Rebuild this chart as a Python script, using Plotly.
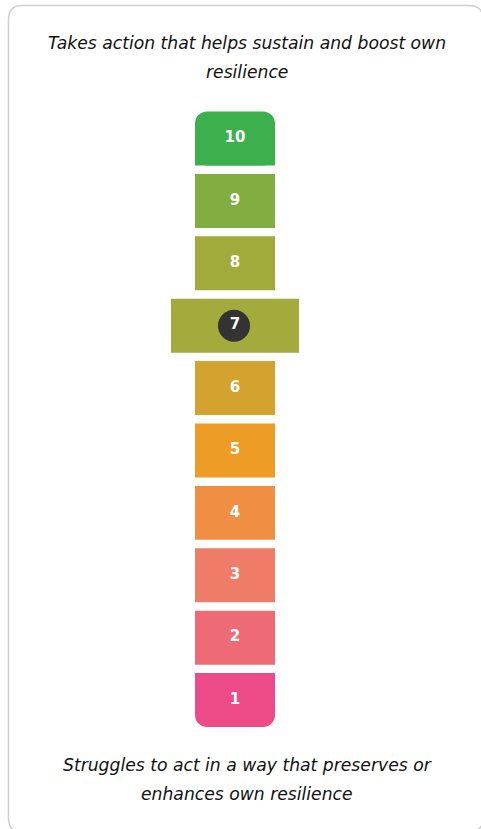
import plotly.graph_objects as go

# ---- data ----
scores = [1, 2, 3, 4, 5, 6, 7, 8, 9, 10]
labels = ["1", "2", "3", "4", "5", "6", "7", "8", "9", "10"]
colors = ["#ec4b88", "#ee6a74", "#ef7c66", "#f08e44", "#ed9c26",
          "#d3a22f", "#a2ab3c", "#a0ab3c", "#82ad41", "#3cb04c"]
selected = 7
top_text = ["Takes action that helps sustain and boost own", "resilience"]
bottom_text = ["Struggles to act in a way that preserves or", "enhances own resilience"]

W, H = 481, 829
BAR_W, SEL_W = 80, 128
BAR_H = 0.865
Y_RANGE = [-1.067, 12.22]


def px(x):
    return x / W


def py(y):
    return 1 - y / H


fig = go.Figure()

widths = [SEL_W if s == selected else BAR_W for s in scores]
hi, lo = max(scores), min(scores)
it, ib = scores.index(hi), scores.index(lo)

# rounded end bars (top bar rounded at top, bottom bar rounded at bottom)
fig.add_trace(go.Bar(
    x=[0], y=[BAR_H], base=[scores[it] - BAR_H / 2], width=[widths[it]],
    marker=dict(color=[colors[it]], line=dict(width=0), cornerradius=12),
    hoverinfo="skip", showlegend=False,
))
fig.add_trace(go.Bar(
    x=[0], y=[-BAR_H], base=[scores[ib] + BAR_H / 2], width=[widths[ib]],
    marker=dict(color=[colors[ib]], line=dict(width=0), cornerradius=12),
    hoverinfo="skip", showlegend=False,
))

# square bars: middle bars + square halves of the end bars
sq_base, sq_h, sq_w, sq_c = [], [], [], []
for i, s in enumerate(scores):
    if s == hi:
        sq_base.append(s - BAR_H / 2); sq_h.append(BAR_H / 2)
    elif s == lo:
        sq_base.append(s); sq_h.append(BAR_H / 2)
    else:
        sq_base.append(s - BAR_H / 2); sq_h.append(BAR_H)
    sq_w.append(widths[i]); sq_c.append(colors[i])
fig.add_trace(go.Bar(
    x=[0] * len(scores), y=sq_h, base=sq_base, width=sq_w,
    marker=dict(color=sq_c, line=dict(width=0)),
    hoverinfo="skip", showlegend=False,
))

# selected circle
fig.add_trace(go.Scatter(
    x=[-1], y=[selected], mode="markers",
    marker=dict(size=32, color="#333333", line=dict(width=0)),
    hoverinfo="skip", showlegend=False,
))
# labels
fig.add_trace(go.Scatter(
    x=[0] * len(scores), y=scores, mode="text", text=labels,
    textfont=dict(family="DejaVu Sans", size=15, color="white", weight="bold"),
    textposition="middle center",
    hoverinfo="skip", showlegend=False,
))

# card border
x0, y0, x1, y1, r = 8.5, 5.5, 483, 832, 14
path = (f"M {px(x0)},{py(y0 + r)} Q {px(x0)},{py(y0)} {px(x0 + r)},{py(y0)} "
        f"L {px(x1 - r)},{py(y0)} Q {px(x1)},{py(y0)} {px(x1)},{py(y0 + r)} "
        f"L {px(x1)},{py(y1 - r)} Q {px(x1)},{py(y1)} {px(x1 - r)},{py(y1)} "
        f"L {px(x0 + r)},{py(y1)} Q {px(x0)},{py(y1)} {px(x0)},{py(y1 - r)} Z")
fig.add_shape(type="path", path=path, xref="paper", yref="paper",
              line=dict(color="#cfcfcf", width=1.5), fillcolor="rgba(0,0,0,0)",
              layer="below")

font_t = dict(family="DejaVu Sans", size=17.2, color="#111111", style="italic")
for txt, yy in zip(top_text, [43, 72]):
    fig.add_annotation(text=txt, x=px(247), y=py(yy), xref="paper", yref="paper",
                       showarrow=False, font=font_t, xanchor="center", yanchor="middle")
for txt, yy in zip(bottom_text, [765, 794]):
    fig.add_annotation(text=txt, x=px(247), y=py(yy), xref="paper", yref="paper",
                       showarrow=False, font=font_t, xanchor="center", yanchor="middle")

fig.update_layout(
    width=W, height=H,
    margin=dict(l=0, r=0, t=0, b=0),
    paper_bgcolor="white", plot_bgcolor="white",
    barmode="overlay",
    xaxis=dict(range=[-235, 246], visible=False, fixedrange=True),
    yaxis=dict(range=Y_RANGE, visible=False, fixedrange=True),
)

fig.write_html("out.html", config={"displayModeBar": False},
               post_script="document.body.style.margin='0';document.body.style.overflow='hidden';")
